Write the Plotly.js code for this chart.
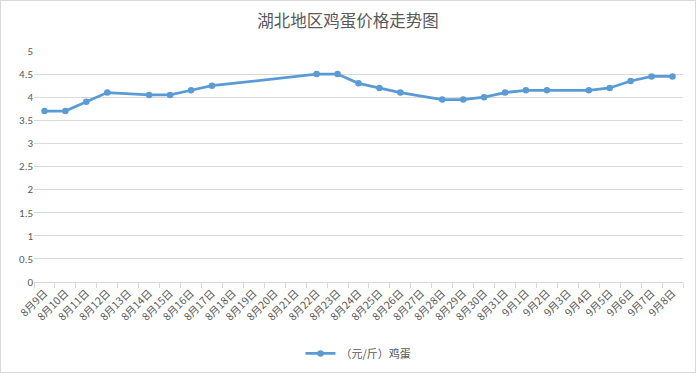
<!DOCTYPE html>
<html>
<head>
<meta charset="utf-8">
<script src="https://cdn.plot.ly/plotly-3.0.1.min.js"></script>
<style>
html,body{margin:0;padding:0;background:#fff;}
#chart{width:694px;height:371px;border:1px solid #d9d9d9;}
</style>
</head>
<body>
<div id="chart"></div>
<script>
const dates = ["8月9日","8月10日","8月11日","8月12日","8月13日","8月14日","8月15日","8月16日","8月17日","8月18日","8月19日","8月20日","8月21日","8月22日","8月23日","8月24日","8月25日","8月26日","8月27日","8月28日","8月29日","8月30日","8月31日","9月1日","9月2日","9月3日","9月4日","9月5日","9月6日","9月7日","9月8日"];
const prices = [3.7,3.7,3.9,4.1,null,4.05,4.05,4.15,4.25,null,null,null,null,4.5,4.5,4.3,4.2,4.1,null,3.95,3.95,4.0,4.1,4.15,4.15,null,4.15,4.2,4.35,4.45,4.45];
const seriesName = "（元/斤）鸡蛋";
const chartTitle = "湖北地区鸡蛋价格走势图";
const yTicks = [0,0.5,1,1.5,2,2.5,3,3.5,4,4.5,5];

const font = "Calibri, Carlito, 'Noto Sans CJK SC', 'Liberation Sans', sans-serif";
Plotly.newPlot('chart', [{
  x: dates, y: prices, type: 'scatter', mode: 'lines+markers',
  name: seriesName, connectgaps: true,
  line: {color: '#5b9bd5', width: 2.75},
  marker: {color: '#5b9bd5', size: 6.5}
}], {
  width: 694, height: 371,
  margin: {l: 33, r: 12, t: 50, b: 90},
  paper_bgcolor: '#fff', plot_bgcolor: '#fff',
  font: {family: font, color: '#595959', size: 11},
  title: {text: chartTitle, x: 0.5, xanchor: 'center', y: 0.945, yanchor: 'middle',
          font: {family: "'Noto Sans CJK SC', sans-serif", size: 16.5, color: '#595959'}},
  xaxis: {type: 'category', tickangle: -45, tickson: 'boundaries', ticks: 'outside', ticklen: 5,
          tickcolor: '#d9d9d9', showline: true, linecolor: '#d9d9d9', showgrid: false, automargin: false,
          tickfont: {family: "'Noto Sans CJK SC', sans-serif", size: 10.5, color: '#595959'},
          range: [-0.5, 30.5], fixedrange: true},
  yaxis: {range: [0, 5], tickvals: yTicks, ticktext: yTicks.map(String), showgrid: true, automargin: false,
          gridcolor: '#d9d9d9', gridwidth: 1, zeroline: false, showline: false, ticks: '',
          tickfont: {size: 11, color: '#595959'}, fixedrange: true},
  showlegend: true,
  legend: {orientation: 'h', x: 0.5, xanchor: 'center', yref: 'container', y: 0.05, yanchor: 'middle',
           font: {family: "'Noto Sans CJK SC', sans-serif", size: 11, color: '#595959'}}
}, {displayModeBar: false, staticPlot: true});
</script>
</body>
</html>
